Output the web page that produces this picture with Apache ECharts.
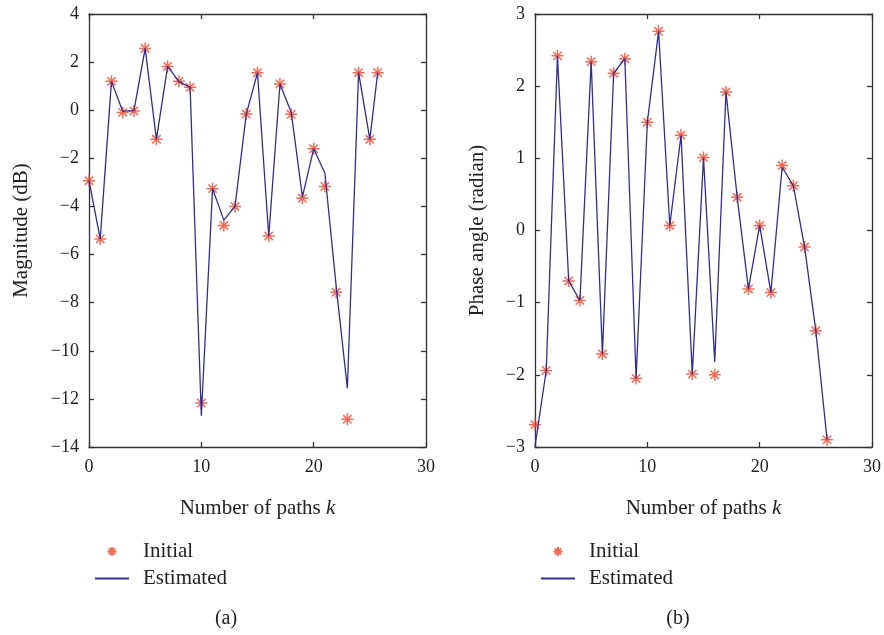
<!DOCTYPE html>
<html>
<head>
<meta charset="utf-8">
<script src="https://cdn.jsdelivr.net/npm/echarts@6/dist/echarts.min.js"></script>
<style>
  html, body { margin: 0; padding: 0; background: #fff; }
  #chart { width: 884px; height: 635px; }
</style>
</head>
<body>
<div id="chart"></div>
<script>
// Path index k for each sample
const kMag = [0, 1, 2, 3, 4, 5, 6, 7, 8, 9, 10, 11, 12, 13, 14, 15, 16, 17, 18, 19, 20, 21, 22, 23, 24, 25, 25.7];
const kPhase = [0, 1, 2, 3, 4, 5, 6, 7, 8, 9, 10, 11, 12, 13, 14, 15, 16, 17, 18, 19, 20, 21, 22, 23, 24, 25, 26];

// (a) magnitude in dB
const magInitial = [-2.93, -5.35, 1.2, -0.09, -0.03, 2.57, -1.21, 1.82, 1.2, 0.95, -12.17, -3.26, -4.79, -4.0, -0.16, 1.56, -5.23, 1.09, -0.17, -3.66, -1.6, -3.17, -7.57, -12.85, 1.56, -1.21, 1.56];
const magEstimated = [-2.93, -5.35, 1.2, -0.04, -0.02, 2.57, -1.21, 1.82, 1.2, 0.95, -12.7, -3.26, -4.57, -4.0, -0.16, 1.56, -5.23, 1.09, -0.08, -3.6, -1.6, -2.62, -7.3, -11.56, 1.56, -1.21, 1.56];

// (b) phase angle in radian
const phaseInitial = [-2.69, -1.94, 2.42, -0.70, -0.97, 2.34, -1.71, 2.18, 2.38, -2.05, 1.50, 2.76, 0.07, 1.32, -1.99, 1.01, -2.0, 1.92, 0.46, -0.81, 0.07, -0.86, 0.90, 0.62, -0.23, -1.39, -2.90];
const phaseEstimated = [-2.99, -1.94, 2.42, -0.70, -0.97, 2.34, -1.71, 2.18, 2.38, -2.05, 1.50, 2.76, 0.07, 1.32, -1.99, 1.01, -1.82, 1.92, 0.46, -0.81, 0.07, -0.86, 0.88, 0.62, -0.23, -1.39, -2.90];

const seriesNames = ['Initial', 'Estimated'];
const xTitle = 'Number of paths {i|k}';
const yTitles = ['Magnitude (dB)', 'Phase angle (radian)'];
const captions = ['(a)', '(b)'];

const FONT = '"Liberation Serif", "DejaVu Serif", serif';
const AXIS_COLOR = '#333';
const TEXT_COLOR = '#222';
const LINE_COLOR = '#2e2e94';
const STAR_COLOR = '#f0462a';
const STAR = 'path://M0,5L10,5M5,0L5,10M1.5,1.5L8.5,8.5M8.5,1.5L1.5,8.5';

const pairs = (xs, ys) => xs.map((x, i) => [x, ys[i]]);
const minus = v => String(v).replace('-', '\u2212');

const axisLine = { show: true, onZero: false, lineStyle: { color: AXIS_COLOR, width: 1.3 } };
const axisTick = { show: true, inside: true, length: 5, lineStyle: { color: AXIS_COLOR, width: 1.3 } };

function xAxes(grid) {
  const base = {
    gridIndex: grid, type: 'value', min: 0, max: 30, interval: 10,
    axisLine: axisLine, axisTick: axisTick, splitLine: { show: false }
  };
  return [
    Object.assign({}, base, {
      position: 'bottom',
      axisLabel: { color: TEXT_COLOR, fontFamily: FONT, fontSize: 18, margin: 11 },
      name: xTitle, nameLocation: 'middle', nameGap: 51,
      nameTextStyle: {
        color: TEXT_COLOR, fontFamily: FONT, fontSize: 21,
        rich: { i: { fontStyle: 'italic', fontFamily: FONT, fontSize: 21, color: TEXT_COLOR } }
      }
    }),
    Object.assign({}, base, { position: 'top', axisLabel: { show: false } })
  ];
}

function yAxes(grid, min, max, interval, title, gap) {
  const base = {
    gridIndex: grid, type: 'value', min: min, max: max, interval: interval,
    axisLine: axisLine, axisTick: axisTick, splitLine: { show: false }
  };
  return [
    Object.assign({}, base, {
      position: 'left',
      axisLabel: { color: TEXT_COLOR, fontFamily: FONT, fontSize: 18, margin: 10, formatter: minus },
      name: title, nameLocation: 'middle', nameGap: gap,
      nameTextStyle: { color: TEXT_COLOR, fontFamily: FONT, fontSize: 21 }
    }),
    Object.assign({}, base, { position: 'right', axisLabel: { show: false } })
  ];
}

function scatter(xi, yi, data) {
  return {
    name: seriesNames[0], type: 'scatter', xAxisIndex: xi, yAxisIndex: yi,
    data: data, symbol: STAR, symbolSize: 12,
    itemStyle: { color: 'none', borderColor: STAR_COLOR, borderWidth: 1.5 },
    z: 2
  };
}

function line(xi, yi, data) {
  return {
    name: seriesNames[1], type: 'line', xAxisIndex: xi, yAxisIndex: yi,
    data: data, symbol: 'none', showSymbol: false,
    lineStyle: { color: LINE_COLOR, width: 1.3 },
    itemStyle: { color: LINE_COLOR },
    z: 3
  };
}

function legend(left) {
  return {
    left: left, top: 536, orient: 'vertical',
    itemWidth: 34, itemHeight: 9, itemGap: 6,
    data: [
      { name: seriesNames[0] },
      { name: seriesNames[1], itemStyle: { opacity: 0 } }
    ],
    selectedMode: false,
    textStyle: { color: TEXT_COLOR, fontFamily: FONT, fontSize: 21, padding: [0, 0, 0, 9] }
  };
}

const chart = echarts.init(document.getElementById('chart'), null, { renderer: 'canvas' });
chart.setOption({
  backgroundColor: '#fff',
  animation: false,
  grid: [
    { left: 89, top: 14, width: 337, height: 433 },
    { left: 535, top: 14, width: 338, height: 433 }
  ],
  xAxis: [].concat(xAxes(0), xAxes(1)),
  yAxis: [].concat(
    yAxes(0, -14, 4, 2, yTitles[0], 57),
    yAxes(1, -3, 3, 1, yTitles[1], 47)
  ),
  legend: [legend(89), legend(535)],
  title: [
    { text: captions[0], left: 221, top: 604, textAlign: 'center',
      textStyle: { color: TEXT_COLOR, fontFamily: FONT, fontSize: 20, fontWeight: 'normal' } },
    { text: captions[1], left: 673, top: 604, textAlign: 'center',
      textStyle: { color: TEXT_COLOR, fontFamily: FONT, fontSize: 20, fontWeight: 'normal' } }
  ],
  series: [
    scatter(0, 0, pairs(kMag, magInitial)),
    line(0, 0, pairs(kMag, magEstimated)),
    scatter(2, 2, pairs(kPhase, phaseInitial)),
    line(2, 2, pairs(kPhase, phaseEstimated))
  ]
});
</script>
</body>
</html>
